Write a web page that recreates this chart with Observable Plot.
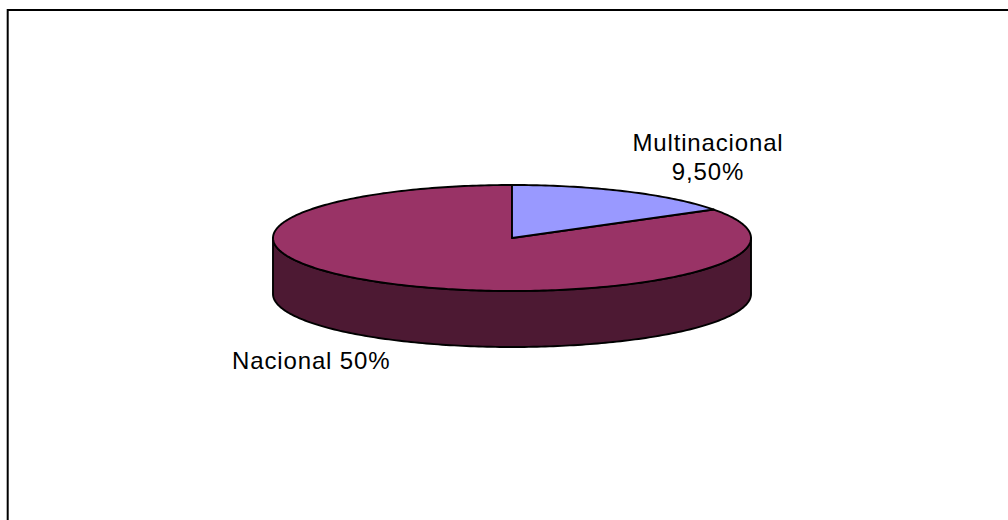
<!DOCTYPE html>
<html><head><meta charset="utf-8">
<style>html,body{margin:0;padding:0;background:#fff;overflow:hidden}svg{display:block}</style>
<script src="https://cdn.jsdelivr.net/npm/d3@7"></script>
<script src="https://cdn.jsdelivr.net/npm/@observablehq/plot@0.6"></script>
</head><body><div id="c"></div>
<script>
const categories = ["Multinacional", "Nacional"];
const values = [9.5, 50];
const valueLabels = ["9,50%", "50%"];
const colors = ["#9999FF", "#993366"];
const wallColor = "#4D1933";
const depth = 56 / 53;
const step = Math.PI / 180;

const arcs = d3.pie().sort(null)(values);
const top3d = a => ({x: Math.sin(a), y: Math.cos(a)});
const bottom3d = a => ({x: Math.sin(a), y: Math.cos(a) - depth});
const arcAngles = (a0, a1) => d3.range(a0, a1, step).concat(a1);

const slices = arcs.map(d => [{x: 0, y: 0}, ...arcAngles(d.startAngle, d.endAngle).map(top3d)]);
const wallAngles = arcAngles(Math.PI / 2, 3 * Math.PI / 2);
const wall = [...wallAngles.map(top3d), ...wallAngles.slice().reverse().map(bottom3d)];

const labels = [
  {text: categories[0] + "\n" + valueLabels[0], x: 0.82, y: 1.54},
  {text: categories[1] + " " + valueLabels[1], x: -0.84, y: -2.30}
];

const poly = (pts, fill) => Plot.line(pts, {x: "x", y: "y", curve: "linear-closed", fill, stroke: "#000", strokeWidth: 1.9});

document.getElementById("c").append(Plot.plot({
  width: 1008, height: 520,
  marginTop: 9.5, marginLeft: 7.2, marginRight: 0, marginBottom: 0,
  style: {background: "#fff", overflow: "hidden", letterSpacing: "0.85px"},
  x: {domain: [-1, 1], range: [272.5, 750.5], axis: null},
  y: {domain: [1, -1], range: [184.5, 290.5], axis: null},
  marks: [
    Plot.frame({stroke: "#000", strokeWidth: 2, insetRight: -10, insetBottom: -10}),
    poly(wall, wallColor),
    poly(slices[1], colors[1]),
    poly(slices[0], colors[0]),
    Plot.text(labels, {x: "x", y: "y", text: "text", fontFamily: "Liberation Sans, Arial, sans-serif", fontSize: 24, lineHeight: 1.22, fill: "#000"})
  ]
}));
</script></body></html>
